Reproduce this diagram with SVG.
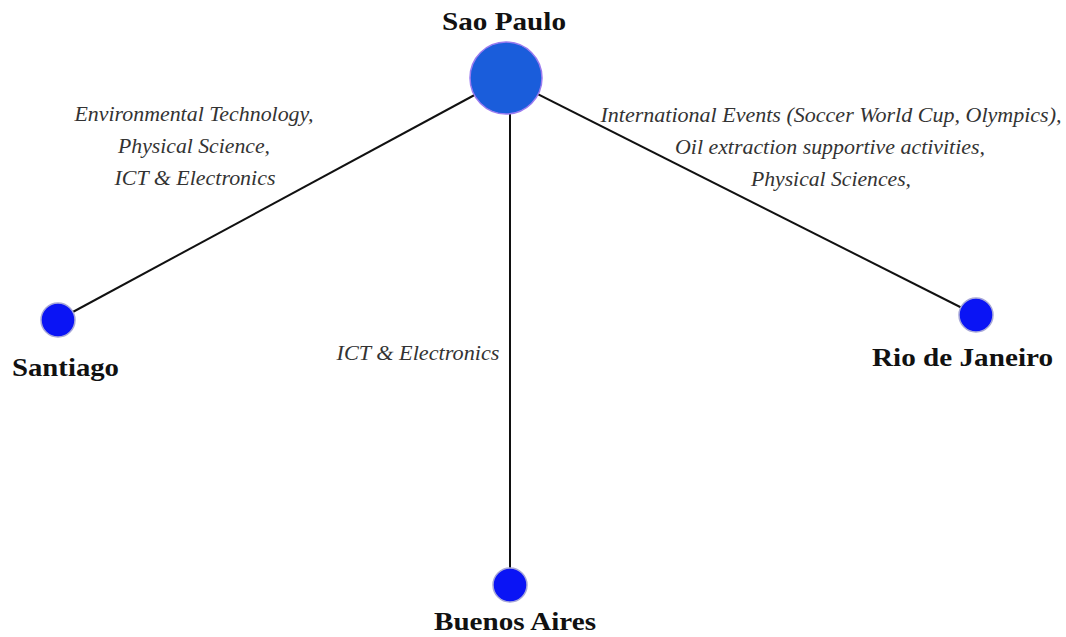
<svg xmlns="http://www.w3.org/2000/svg" width="1066" height="637" viewBox="0 0 1066 637">
  <style>
    .edge { stroke: #111; stroke-width: 2; fill: none; }
    .city { font-family: "Liberation Serif", serif; font-weight: bold; font-size: 26px; fill: #111; text-anchor: middle; }
    .topic { font-family: "Liberation Serif", serif; font-style: italic; font-size: 20px; fill: #333; text-anchor: middle; }
    .hub { fill: #1a5ddb; stroke: #9a7bf0; stroke-width: 1.5; }
    .leaf { fill: #0a14f5; stroke: #a8a8d8; stroke-width: 1.5; }
  </style>
  <rect width="1066" height="637" fill="#fff"/>
  <g id="connectors">
    <line class="edge" x1="506" y1="78" x2="58" y2="320"/>
    <line class="edge" x1="506" y1="78" x2="976" y2="315"/>
    <line class="edge" x1="510" y1="78" x2="510" y2="585"/>
    <text class="topic" x="194" y="121" textLength="239" lengthAdjust="spacingAndGlyphs">Environmental Technology,</text>
    <text class="topic" x="194" y="153" textLength="152" lengthAdjust="spacingAndGlyphs">Physical Science,</text>
    <text class="topic" x="195" y="185" textLength="161" lengthAdjust="spacingAndGlyphs">ICT &amp; Electronics</text>
    <text class="topic" x="831" y="122" textLength="461" lengthAdjust="spacingAndGlyphs">International Events (Soccer World Cup, Olympics),</text>
    <text class="topic" x="830" y="154" textLength="310" lengthAdjust="spacingAndGlyphs">Oil extraction supportive activities,</text>
    <text class="topic" x="831" y="186" textLength="160" lengthAdjust="spacingAndGlyphs">Physical Sciences,</text>
    <text class="topic" x="418" y="360" textLength="163" lengthAdjust="spacingAndGlyphs">ICT &amp; Electronics</text>
  </g>
  <g id="sao-paulo">
    <circle class="hub" cx="506" cy="78" r="36"/>
    <text class="city" x="504" y="30" textLength="124" lengthAdjust="spacingAndGlyphs">Sao Paulo</text>
  </g>
  <g id="santiago">
    <circle class="leaf" cx="58" cy="320" r="17"/>
    <text class="city" x="65.5" y="376" textLength="107" lengthAdjust="spacingAndGlyphs">Santiago</text>
  </g>
  <g id="rio-de-janeiro">
    <circle class="leaf" cx="976" cy="315" r="17"/>
    <text class="city" x="962.5" y="366" textLength="181" lengthAdjust="spacingAndGlyphs">Rio de Janeiro</text>
  </g>
  <g id="buenos-aires">
    <circle class="leaf" cx="510" cy="585" r="17"/>
    <text class="city" x="515" y="630" textLength="162" lengthAdjust="spacingAndGlyphs">Buenos Aires</text>
  </g>
</svg>
